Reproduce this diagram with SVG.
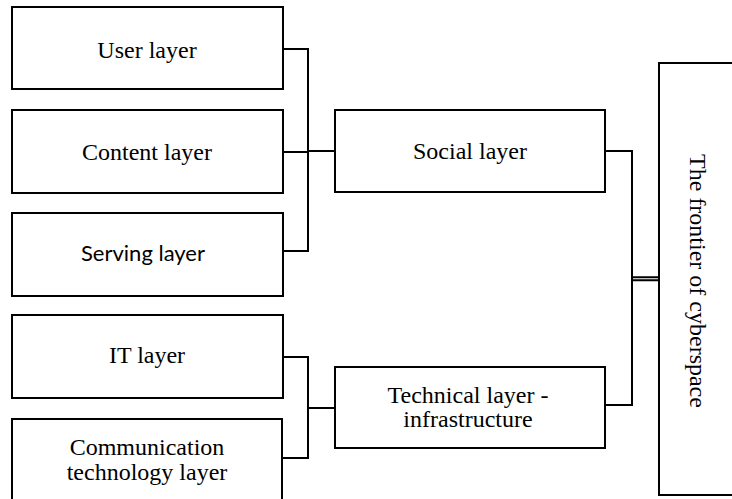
<svg xmlns="http://www.w3.org/2000/svg" width="732" height="499" viewBox="0 0 732 499">
<style>
.box{fill:#fff;stroke:#000;stroke-width:2}
.t{font-family:"Liberation Serif","Times New Roman",serif;font-size:24px;fill:#000;text-anchor:middle}
.s{font-family:Lato,"Liberation Sans",sans-serif;font-size:22px;fill:#000;text-anchor:middle}
.c{fill:none;stroke:#000;stroke-width:2}
</style>
<rect width="732" height="499" fill="#fff"/>
<g id="connectors">
<path class="c" d="M283 49H308V251H283M283 152H308"/>
<path class="c" d="M308 151H335" stroke-width="3.5"/>
<path class="c" d="M283 357H308V458H283M308 408H335"/>
<path class="c" d="M605 151H632V405H605"/>
<path class="c" d="M632 277.3H659M632 280.3H659" stroke-width="1.6"/>
</g>
<g id="user"><rect class="box" x="12" y="7" width="271" height="82"/><text class="t" x="147" y="58">User layer</text></g>
<g id="content"><rect class="box" x="12" y="110" width="271" height="83"/><text class="t" x="147" y="160">Content layer</text></g>
<g id="serving"><rect class="box" x="12" y="213" width="271" height="83"/><text class="s" x="143" y="261">Serving layer</text></g>
<g id="it"><rect class="box" x="12" y="315" width="271" height="83"/><text class="t" x="147" y="363">IT layer</text></g>
<g id="comm"><rect class="box" x="12" y="419" width="270" height="90"/><text class="t" x="147" y="455">Communication</text><text class="t" x="147" y="480">technology layer</text></g>
<g id="social"><rect class="box" x="335" y="110" width="270" height="82"/><text class="t" x="470" y="159">Social layer</text></g>
<g id="technical"><rect class="box" x="335" y="367" width="270" height="81"/><text class="t" x="468" y="403">Technical layer -</text><text class="t" x="468" y="427">infrastructure</text></g>
<g id="frontier"><rect class="box" x="659" y="63" width="90" height="432"/><text class="t" transform="translate(690 281) rotate(90)" x="0" y="0">The frontier of cyberspace</text></g>
</svg>
